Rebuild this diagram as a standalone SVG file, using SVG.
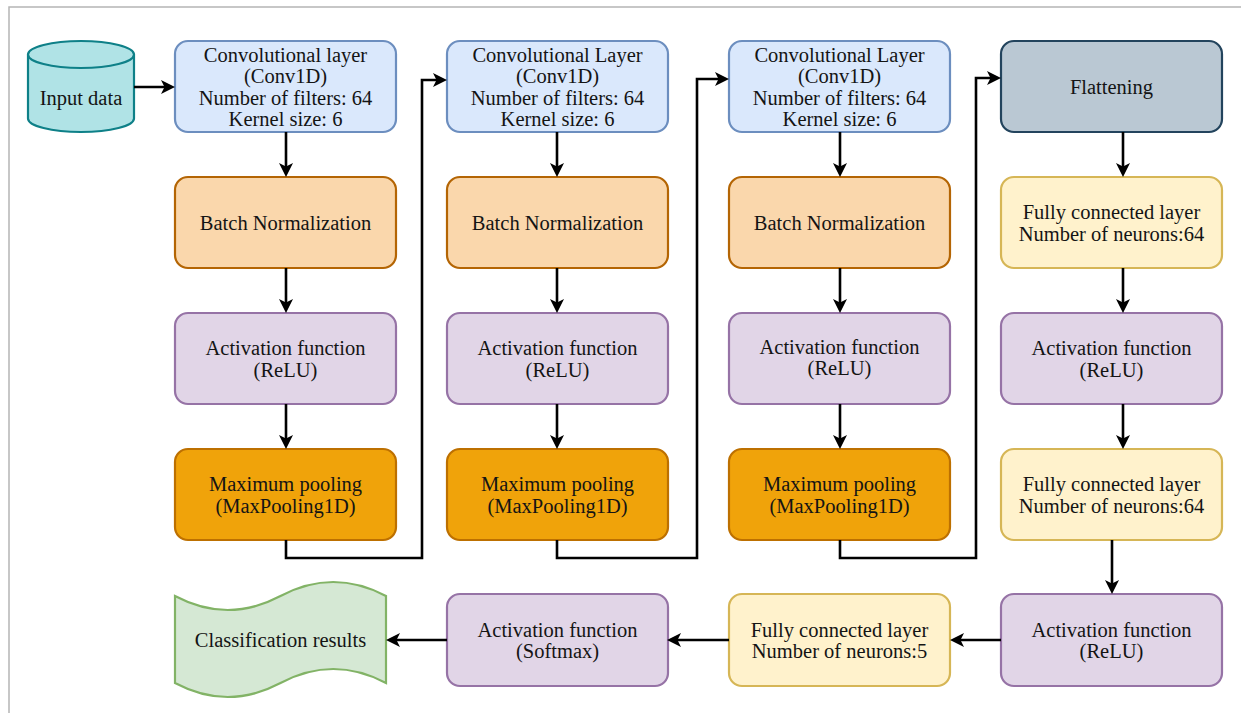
<svg xmlns="http://www.w3.org/2000/svg" width="1241" height="713" viewBox="0 0 1241 713">
<style>
text{font-family:'Liberation Serif','Times New Roman',Times,serif;font-size:20.5px;fill:#141414;text-anchor:middle}
.b{stroke-width:2.2}
.conv{fill:#dae8fc;stroke:#6c8ebf}
.bn{fill:#fad7ac;stroke:#b46504}
.act{fill:#e1d5e7;stroke:#9673a6}
.mp{fill:#f0a30a;stroke:#bd7000}
.fl{fill:#bac8d3;stroke:#23445d}
.fc{fill:#fff2cc;stroke:#d6b656}
.c{fill:none;stroke:#000;stroke-width:2.6;marker-end:url(#ah)}
</style>
<defs>
<marker id="ah" markerUnits="userSpaceOnUse" viewBox="0 0 14 14" refX="10" refY="7" markerWidth="14" markerHeight="14" orient="auto">
<path d="M0,0 L14,7 L0,14 L3.5,7 Z" fill="#000"/>
</marker>
</defs>
<rect width="1241" height="713" fill="#fff"/>
<path d="M9,713 V7 H1241" fill="none" stroke="#b5b5b5" stroke-width="1.5"/>

<g id="input">
<path class="b" d="M28,54.5 V118.5 A53,13.5 0 0 0 134,118.5 V54.5" fill="#b0e3e6" stroke="#0e8088"/>
<ellipse class="b" cx="81" cy="54.5" rx="53" ry="13.5" fill="#b0e3e6" stroke="#0e8088"/>
<text x="81" y="105">Input data</text>
</g>

<g id="conv1"><rect class="b conv" x="175" y="41" width="221" height="91" rx="13"/>
<text x="285.5" y="61.75">Convolutional layer</text><text x="285.5" y="83.25">(Conv1D)</text><text x="285.5" y="104.75">Number of filters: 64</text><text x="285.5" y="126.25">Kernel size: 6</text></g>
<g id="bn1"><rect class="b bn" x="175" y="177" width="221" height="91" rx="13"/><text x="285.5" y="230">Batch Normalization</text></g>
<g id="act1"><rect class="b act" x="175" y="313" width="221" height="91" rx="13"/><text x="285.5" y="355.25">Activation function</text><text x="285.5" y="376.75">(ReLU)</text></g>
<g id="mp1"><rect class="b mp" x="175" y="449" width="221" height="91" rx="13"/><text x="285.5" y="491.25">Maximum pooling</text><text x="285.5" y="512.75">(MaxPooling1D)</text></g>

<g id="conv2"><rect class="b conv" x="447" y="41" width="221" height="91" rx="13"/>
<text x="557.5" y="61.75">Convolutional Layer</text><text x="557.5" y="83.25">(Conv1D)</text><text x="557.5" y="104.75">Number of filters: 64</text><text x="557.5" y="126.25">Kernel size: 6</text></g>
<g id="bn2"><rect class="b bn" x="447" y="177" width="221" height="91" rx="13"/><text x="557.5" y="230">Batch Normalization</text></g>
<g id="act2"><rect class="b act" x="447" y="313" width="221" height="91" rx="13"/><text x="557.5" y="355.25">Activation function</text><text x="557.5" y="376.75">(ReLU)</text></g>
<g id="mp2"><rect class="b mp" x="447" y="449" width="221" height="91" rx="13"/><text x="557.5" y="491.25">Maximum pooling</text><text x="557.5" y="512.75">(MaxPooling1D)</text></g>

<g id="conv3"><rect class="b conv" x="729" y="41" width="221" height="91" rx="13"/>
<text x="839.5" y="61.75">Convolutional Layer</text><text x="839.5" y="83.25">(Conv1D)</text><text x="839.5" y="104.75">Number of filters: 64</text><text x="839.5" y="126.25">Kernel size: 6</text></g>
<g id="bn3"><rect class="b bn" x="729" y="177" width="221" height="91" rx="13"/><text x="839.5" y="230">Batch Normalization</text></g>
<g id="act3"><rect class="b act" x="729" y="313" width="221" height="91" rx="13"/><text x="839.5" y="353.5">Activation function</text><text x="839.5" y="375">(ReLU)</text></g>
<g id="mp3"><rect class="b mp" x="729" y="449" width="221" height="91" rx="13"/><text x="839.5" y="491.25">Maximum pooling</text><text x="839.5" y="512.75">(MaxPooling1D)</text></g>

<g id="flatten"><rect class="b fl" x="1001" y="41" width="221" height="91" rx="13"/><text x="1111.5" y="94">Flattening</text></g>
<g id="fc1"><rect class="b fc" x="1001" y="177" width="221" height="91" rx="13"/><text x="1111.5" y="219.25">Fully connected layer</text><text x="1111.5" y="240.75">Number of neurons:64</text></g>
<g id="act4"><rect class="b act" x="1001" y="313" width="221" height="91" rx="13"/><text x="1111.5" y="355.25">Activation function</text><text x="1111.5" y="376.75">(ReLU)</text></g>
<g id="fc2"><rect class="b fc" x="1001" y="449" width="221" height="91" rx="13"/><text x="1111.5" y="491.25">Fully connected layer</text><text x="1111.5" y="512.75">Number of neurons:64</text></g>
<g id="act5"><rect class="b act" x="1001" y="594" width="221" height="92" rx="13"/><text x="1111.5" y="636.75">Activation function</text><text x="1111.5" y="658.25">(ReLU)</text></g>
<g id="fc3"><rect class="b fc" x="729" y="594" width="221" height="92" rx="13"/><text x="839.5" y="636.75">Fully connected layer</text><text x="839.5" y="658.25">Number of neurons:5</text></g>
<g id="softmax"><rect class="b act" x="447" y="594" width="221" height="92" rx="13"/><text x="557.5" y="636.75">Activation function</text><text x="557.5" y="658.25">(Softmax)</text></g>
<g id="result">
<path class="b" d="M175,596 Q227.75,624 280.5,596 T386,596 V683 Q333.25,655 280.5,683 T175,683 Z" fill="#d5e8d4" stroke="#82b366"/>
<text x="280.5" y="647">Classification results</text>
</g>

<g id="connectors">
<path class="c" d="M134,87 H171"/>
<path class="c" d="M286,132 V173"/>
<path class="c" d="M286,268 V309"/>
<path class="c" d="M286,404 V445"/>
<path class="c" d="M557,132 V173"/>
<path class="c" d="M557,268 V309"/>
<path class="c" d="M557,404 V445"/>
<path class="c" d="M840,132 V173"/>
<path class="c" d="M840,268 V309"/>
<path class="c" d="M840,404 V445"/>
<path class="c" d="M1123,132 V173"/>
<path class="c" d="M1123,268 V309"/>
<path class="c" d="M1123,404 V445"/>
<path class="c" d="M1112,540 V590"/>
<path class="c" d="M286,540 V558 H422 V80 H443"/>
<path class="c" d="M557,540 V558 H697 V79 H725"/>
<path class="c" d="M840,540 V558 H976 V78 H997"/>
<path class="c" d="M1001,640 H954"/>
<path class="c" d="M729,640 H671"/>
<path class="c" d="M447,640 H390"/>
</g>
</svg>
